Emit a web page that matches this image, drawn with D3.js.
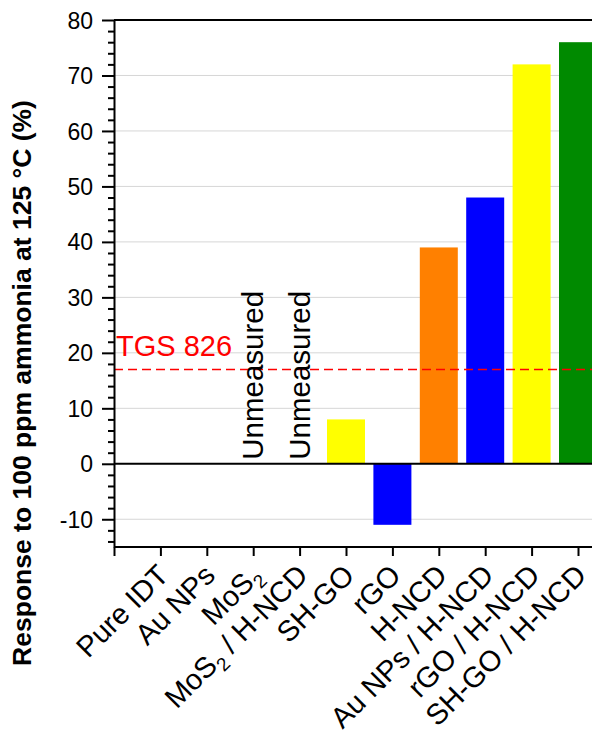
<!DOCTYPE html>
<html>
<head>
  <meta charset="utf-8">
  <title>Ammonia response</title>
  <script src="https://d3js.org/d3.v7.min.js"></script>
  <style>
    body { margin: 0; background: #fff; }
    text { font-family: Arial, "Liberation Sans", sans-serif; }
  </style>
</head>
<body>
  <div id="chart"></div>
  <script>
    // data
    const categories = ["Pure IDT", "Au NPs", "MoS2", "MoS2 / H-NCD", "SH-GO", "rGO",
                        "H-NCD", "Au NPs / H-NCD", "rGO / H-NCD", "SH-GO / H-NCD"];
    const responses = [0, 0, null, null, 8, -11, 39, 48, 72, 76];   // null = unmeasured
    const barColors = ["none", "none", "none", "none", "#ffff00", "#0000ff",
                       "#ff8000", "#0000ff", "#ffff00", "#008a00"];
    const referenceLevel = 17;        // TGS 826 commercial sensor
    const referenceLabel = "TGS 826";
    const yTicks = [-10, 0, 10, 20, 30, 40, 50, 60, 70, 80];

    const W = 592, H = 733;
    const svg = d3.select("#chart").append("svg")
                  .attr("width", W).attr("height", H);

    // y scale
    const y = d3.scaleLinear().domain([-15, 80]).range([547, 20]);
    // x: category i sits at index i, axis starts one step to the left
    const x = d3.scaleLinear().domain([-1, 10]).range([114, 114 + 46.4 * 11]);
    const left = x(-1), right = W + 40;

    // grid lines
    svg.append("g").selectAll("line")
       .data(yTicks.filter(d => d !== 0 && d !== 80))
       .join("line")
       .attr("x1", left).attr("x2", right)
       .attr("y1", d => y(d)).attr("y2", d => y(d))
       .attr("stroke", "#d6d6d6").attr("stroke-width", 1);

    // bars
    const barW = 38;
    const bars = categories.map((c, i) => ({c, i, v: responses[i], col: barColors[i]}))
                           .filter(d => d.v !== null && d.v !== 0);
    svg.append("g").selectAll("rect")
       .data(bars)
       .join("rect")
       .attr("x", d => x(d.i) - barW / 2)
       .attr("width", barW)
       .attr("y", d => y(Math.max(0, d.v)))
       .attr("height", d => Math.abs(y(d.v) - y(0)))
       .attr("fill", d => d.col);

    // zero line and top frame
    svg.append("line")
       .attr("x1", left).attr("x2", right)
       .attr("y1", y(0)).attr("y2", y(0))
       .attr("stroke", "#000").attr("stroke-width", 2);
    svg.append("line")
       .attr("x1", left).attr("x2", right)
       .attr("y1", y(80)).attr("y2", y(80))
       .attr("stroke", "#000").attr("stroke-width", 2);

    // reference line
    svg.append("line")
       .attr("x1", left).attr("x2", right)
       .attr("y1", y(referenceLevel)).attr("y2", y(referenceLevel))
       .attr("stroke", "#ff0000").attr("stroke-width", 1.5)
       .attr("stroke-dasharray", "9,5");
    svg.append("text")
       .attr("x", 116).attr("y", 356)
       .attr("fill", "#ff0000").attr("font-size", 29)
       .text(referenceLabel);

    // unmeasured labels
    svg.append("g").selectAll("text")
       .data(categories.map((c, i) => ({c, i, v: responses[i]})).filter(d => d.v === null))
       .join("text")
       .attr("transform", d => `translate(${x(d.i) + 10},${y(0) - 4}) rotate(-90)`)
       .attr("font-size", 29.5)
       .text("Unmeasured");

    // y axis: minor + major
    const yMinor = d3.range(-14, 80, 2).filter(d => d % 10 !== 0);
    svg.append("g")
       .attr("transform", `translate(${left},0)`)
       .call(d3.axisLeft(y).tickValues(yMinor).tickSize(6).tickFormat(""))
       .call(g => g.select(".domain").remove())
       .call(g => g.selectAll("line").attr("stroke-width", 2));
    const yAxis = svg.append("g")
       .attr("transform", `translate(${left},0)`)
       .call(d3.axisLeft(y).tickValues(yTicks).tickSize(12).tickSizeOuter(0)
               .tickPadding(9).tickFormat(d => String(d)));
    yAxis.select(".domain").attr("stroke-width", 2);
    yAxis.selectAll("line").attr("stroke-width", 2);
    yAxis.selectAll("text")
         .attr("font-size", 23).attr("font-family", "Arial, 'Liberation Sans', sans-serif")
         .attr("fill", "#000").attr("dy", "0.35em");

    // x axis at the bottom
    const xAxis = svg.append("g")
       .attr("transform", `translate(0,${y(-15)})`)
       .call(d3.axisBottom(x).tickValues(d3.range(-1, 11)).tickSize(9)
               .tickSizeOuter(0).tickFormat(""));
    xAxis.select(".domain").attr("d", `M${left},0H${right}`).attr("stroke-width", 2);
    xAxis.selectAll("line").attr("stroke-width", 2);

    // category labels, rotated 45 degrees, with subscript for MoS2
    const labels = svg.append("g").selectAll("text")
       .data(categories.map((c, i) => ({c, i})))
       .join("text")
       .attr("transform", d => `translate(${x(d.i) + 10},${y(-15) + 30}) rotate(-45)`)
       .attr("text-anchor", "end")
       .attr("font-size", 29);
    labels.each(function(d) {
      const t = d3.select(this);
      const parts = d.c.split("MoS2");
      parts.forEach((p, k) => {
        if (k > 0) {
          t.append("tspan").text("MoS");
          t.append("tspan").attr("font-size", 19).attr("dy", 7).text("2");
          t.append("tspan").attr("dy", -7).text(p || "\u200b");
        } else if (p) {
          t.append("tspan").text(p);
        }
      });
    });

    // y axis title
    svg.append("text")
       .attr("transform", "translate(31,383) rotate(-90)")
       .attr("text-anchor", "middle")
       .attr("font-size", 26.5).attr("font-weight", "bold")
       .text("Response to 100 ppm ammonia at 125 \u00b0C (%)");
  </script>
</body>
</html>
